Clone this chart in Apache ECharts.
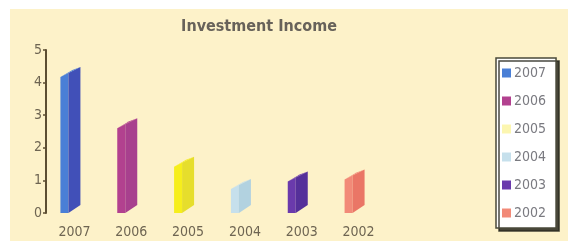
<!DOCTYPE html>
<html>
<head>
<meta charset="utf-8">
<script src="https://cdn.jsdelivr.net/npm/echarts@6/dist/echarts.min.js"></script>
<style>
  html, body { margin: 0; padding: 0; background: #ffffff; }
  #chart { position: absolute; left: 10px; top: 9px; width: 558px; height: 232px; }
</style>
</head>
<body>
<div id="chart"></div>
<script>
// chart data
const years = ['2007', '2006', '2005', '2004', '2003', '2002'];
const income = [4.17, 2.6, 1.42, 0.74, 0.97, 1.03];
const yTicks = [0, 1, 2, 3, 4, 5];

// face colours: light (front) and dark (side)
const lightColors = ['#4a7fd6', '#b2418f', '#f6ee1c', '#c6e0ec', '#6a3aac', '#f28a78'];
const darkColors = ['#4150b8', '#a8408e', '#e6de2c', '#b2d2e0', '#55309a', '#ea7666'];
const legendColors = ['#4a7fd6', '#b2418f', '#fcf6b0', '#c6e0ec', '#6a3aac', '#f28a78'];

const FONT = "'DejaVu Sans Condensed', 'DejaVu Sans', sans-serif";

const chart = echarts.init(document.getElementById('chart'));

function renderBar(params, api) {
  const idx = api.value(0);
  const top = api.coord([idx, api.value(1)]);
  const base = api.coord([idx, 0]);
  const cx = top[0];
  const yt = top[1];
  const yb = base[1];
  const light = lightColors[idx];
  const dark = darkColors[idx];
  return {
    type: 'group',
    children: [
      {
        type: 'polygon',
        shape: { points: [[cx - 14, yb], [cx - 6, yb], [cx - 6, yt - 4], [cx - 14, yt]] },
        style: { fill: light }
      },
      {
        type: 'polygon',
        shape: { points: [[cx - 6, yb], [cx + 6, yb - 8], [cx + 6, yt - 10], [cx - 6, yt - 4]] },
        style: { fill: dark }
      },
      {
        type: 'polygon',
        shape: { points: [[cx - 14, yt], [cx - 6, yt - 4], [cx + 6, yt - 10], [cx - 2, yt - 7]] },
        style: { fill: light }
      }
    ]
  };
}

const series = years.map((y, i) => ({
  name: y,
  type: 'custom',
  renderItem: renderBar,
  itemStyle: { color: legendColors[i] },
  encode: { x: 0, y: 1 },
  data: [[i, income[i]]]
}));

const option = {
  backgroundColor: '#fdf2c9',
  animation: false,
  title: {
    text: 'Investment Income',
    left: 244,
    top: 5,
    textAlign: 'center',
    textStyle: {
      fontFamily: FONT,
      fontSize: 16,
      fontWeight: 'bold',
      color: '#67625a'
    }
  },
  legend: {
    orient: 'vertical',
    left: 486,
    top: 49,
    width: 56,
    itemWidth: 9,
    itemHeight: 9,
    itemGap: 14,
    icon: 'rect',
    padding: [8, 10, 8, 6],
    backgroundColor: '#ffffff',
    borderColor: '#4a4a3a',
    borderWidth: 1.5,
    shadowColor: 'rgba(40,40,30,0.85)',
    shadowBlur: 0,
    shadowOffsetX: 3,
    shadowOffsetY: 3,
    data: years,
    textStyle: {
      fontFamily: FONT,
      fontSize: 14,
      color: '#7a7a80',
      padding: [0, 0, 0, -2]
    }
  },
  grid: { left: 36, top: 41, width: 341, height: 163 },
  xAxis: {
    type: 'category',
    data: years,
    axisLine: { show: false },
    axisTick: { show: false },
    axisLabel: {
      margin: 12,
      fontFamily: FONT,
      fontSize: 14,
      color: '#6e6552'
    }
  },
  yAxis: {
    type: 'value',
    min: 0,
    max: 5,
    interval: 1,
    splitLine: { show: false },
    axisLine: { show: true, lineStyle: { color: '#5c4e32', width: 2 } },
    axisTick: { show: true, length: 3, lineStyle: { color: '#5c4e32', width: 1.5 } },
    axisLabel: {
      margin: 4,
      fontFamily: FONT,
      fontSize: 14,
      color: '#6e6552',
      formatter: v => (yTicks.indexOf(v) >= 0 ? String(v) : '')
    }
  },
  series: series
};

chart.setOption(option);
</script>
</body>
</html>
